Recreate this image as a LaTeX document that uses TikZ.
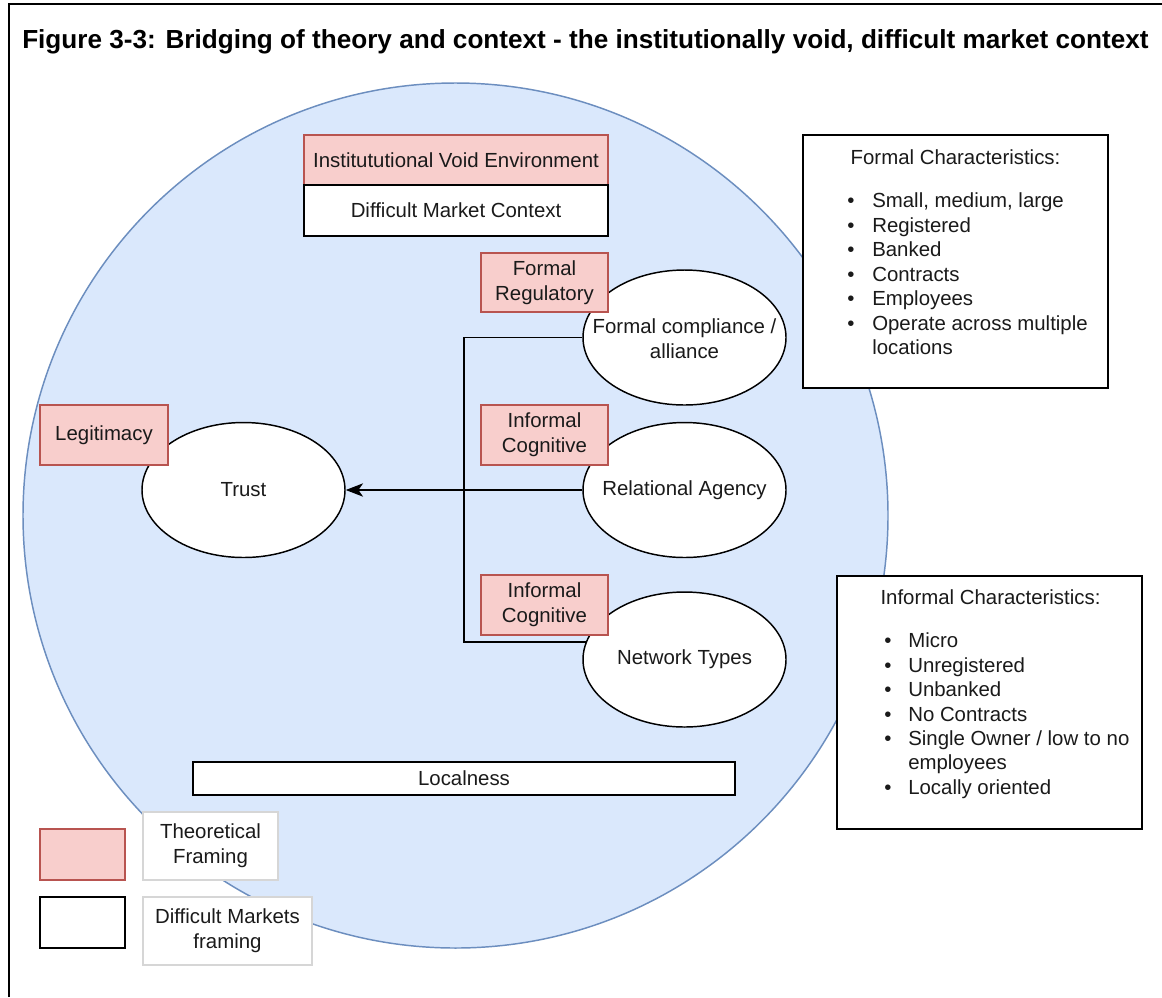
\documentclass[tikz,border=0pt]{standalone}
\usepackage{fontspec}
\setmainfont{Liberation Sans}
\usetikzlibrary{shapes.geometric,arrows.meta}

\definecolor{circfill}{HTML}{DAE8FC}
\definecolor{circline}{HTML}{6C8EBF}
\definecolor{theofill}{HTML}{F8CECC}
\definecolor{theoline}{HTML}{B85450}
\definecolor{legline}{HTML}{D6D6D6}
\definecolor{ink}{HTML}{1A1A1A}

\tikzset{
  txt/.style={font=\fontsize{15.3}{18.8}\selectfont, text=ink, align=center, inner sep=0pt},
  base/.style={txt, line width=1.1pt},
  sz/.style 2 args={minimum width=#1*0.75pt, minimum height=#2*0.75pt},
  theory/.style={base, rectangle, draw=theoline, fill=theofill},
  market/.style={base, rectangle, draw=black, fill=white},
  concept/.style={base, ellipse, draw=black, fill=white, sz={203}{135}},
  legendlabel/.style={base, rectangle, draw=legline, fill=white},
  link/.style={line width=1.1pt, draw=black},
  listitem/.style={txt, anchor=base west},
  bullet/.style={txt, anchor=base},
}

\begin{document}
\begin{tikzpicture}[x=0.75pt, y=-0.75pt]
  \useasboundingbox (0,0) rectangle (1162,997);
  \fill[white] (0,0) rectangle (1162,997);

  % page frame (top and left rules)
  \draw[line width=2pt] (9,997) -- (9,4) -- (1162,4);

  % title
  \node[txt, font=\fontsize{19.6}{22}\selectfont\bfseries, text=black, anchor=base west] (title) at (22,48)
    {Figure 3-3: Bridging of theory and context - the institutionally void, difficult market context};

  % market context circle
  \draw[fill=circfill, draw=circline, line width=1.1pt] (455.5,515.5) circle[radius=324.375pt];

  % context header
  \node[theory, sz={304}{50}] (ive) at (456,160) {Institututional Void Environment};
  \node[market, sz={304}{51}] (dmc) at (456,210.5) {Difficult Market Context};

  % concepts (ellipse outline, caption set on top)
  \node[concept] (fca)   at (684.5,337.5) {};
  \node[concept] (ra)    at (684.5,490)   {};
  \node[concept] (nt)    at (684.5,659.5) {};
  \node[concept] (trust) at (243.5,490)   {};
  \node[txt] (fcat)   at (684.5,339) {Formal compliance /\\alliance};
  \node[txt] (rat)    at (ra)    {Relational Agency};
  \node[txt] (ntt)    at (nt)    {Network Types};
  \node[txt] (trustt) at (trust) {Trust};

  % connectors
  \coordinate (jt) at (464,337.5);
  \draw[link] (fca.west) -- (jt) |- (nt.170);
  \draw[link, -{Stealth[length=13pt, width=10pt, inset=3.5pt]}] (ra.west) -- (trust.east);

  % theoretical framing labels
  \node[theory, sz={127}{59}] (freg) at (544.5,282.5) {Formal\\Regulatory};
  \node[theory, sz={127}{60}] (ic1)  at (544.5,435)   {Informal\\Cognitive};
  \node[theory, sz={127}{60}] (ic2)  at (544.5,605)   {Informal\\Cognitive};
  \node[theory, sz={128}{60}] (legit) at (104,435)    {Legitimacy};

  \node[market, sz={542}{33}] (loc) at (464,778.5) {Localness};

  % formal characteristics
  \node[market, sz={305}{253}] (fchar) at (955.5,261.5) {};
  \node[txt, anchor=base] (fct) at (955.5,164) {Formal Characteristics:};
  \foreach \t/\y in {{Small, medium, large}/200, {Registered}/225, {Banked}/249,
                     {Contracts}/274, {Employees}/298, {Operate across multiple}/323}{
    \node[bullet] at (851,\y+7) {•};
    \node[listitem] at (872,\y+7) {\t};
  }
  \node[listitem] at (872,354) {locations};

  % informal characteristics
  \node[market, sz={305}{253}] (ichar) at (989.5,702.5) {};
  \node[txt, anchor=base] (ict) at (990.5,604) {Informal Characteristics:};
  \foreach \t/\y in {{Micro}/640, {Unregistered}/665, {Unbanked}/689,
                     {No Contracts}/714, {Single Owner / low to no}/738, {Locally oriented}/787}{
    \node[bullet] at (888,\y+7) {•};
    \node[listitem] at (908,\y+7) {\t};
  }
  \node[listitem] at (908,769) {employees};

  % legend
  \node[theory, sz={85}{51}] (keyt) at (82.5,854.5) {};
  \node[market, sz={85}{51}] (keym) at (82.5,922.5) {};
  \node[legendlabel, sz={135}{68}] (keytl) at (210.5,846) {Theoretical\\Framing};
  \node[legendlabel, sz={169}{68}] (keyml) at (227.5,931) {Difficult Markets\\framing};
\end{tikzpicture}
\end{document}
